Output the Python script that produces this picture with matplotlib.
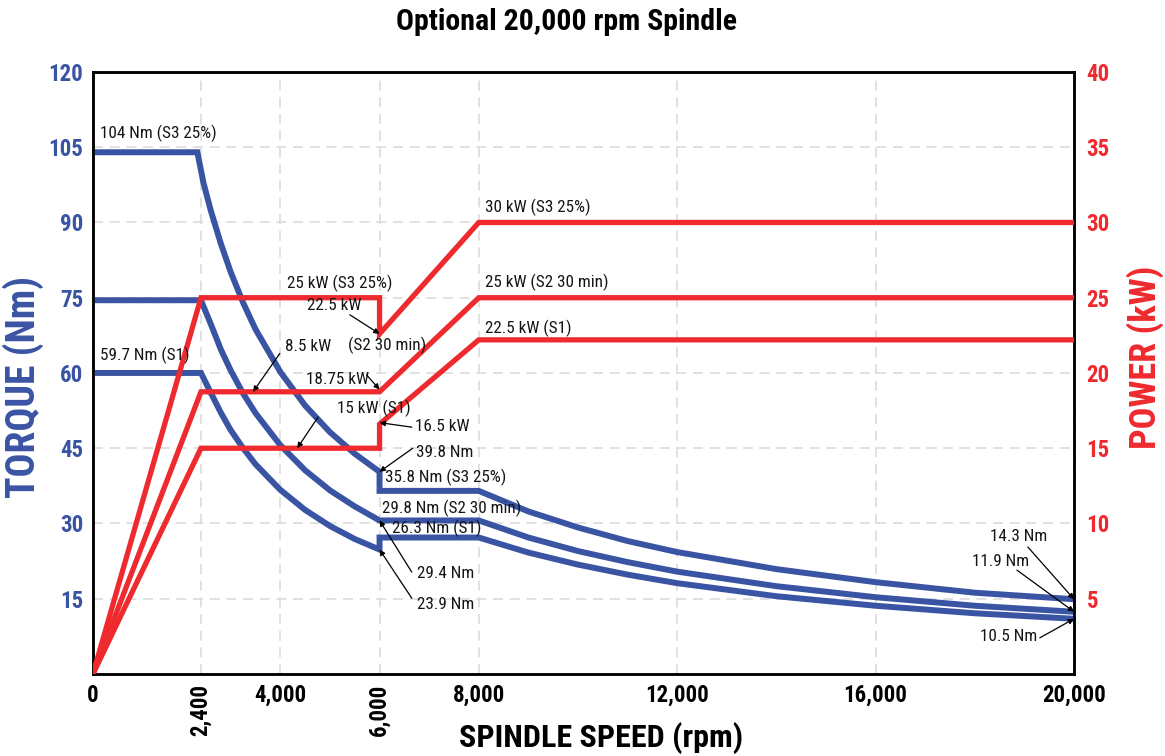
import numpy as np
import matplotlib.pyplot as plt

# torque curves (Nm) against spindle speed (rpm)
rpm_s3 = [0, 2320, 2450, 2600, 2800, 3000, 3250, 3500, 4000, 4500, 5000, 5500, 6000,
          6000, 8000, 9000, 10000, 11000, 12000, 14000, 16000, 18000, 20000]
tq_s3 = [104, 104, 97.9, 92.3, 85.8, 80.1, 74.0, 68.7, 60.2, 53.5, 48.2, 43.9, 40.3,
         36.5, 36.5, 32.4, 29.2, 26.5, 24.3, 20.9, 18.3, 16.2, 14.9]

rpm_s2 = [0, 2400, 2600, 2800, 3000, 3250, 3500, 4000, 4500, 5000, 5500, 6000,
          8000, 9000, 10000, 11000, 12000, 14000, 16000, 18000, 20000]
tq_s2 = [74.5, 74.5, 69.7, 64.7, 60.5, 55.9, 52.0, 45.6, 40.6, 36.6, 33.4, 30.6,
         30.6, 27.2, 24.5, 22.3, 20.4, 17.5, 15.3, 13.6, 12.4]

rpm_s1 = [0, 2400, 2600, 2800, 3000, 3250, 3500, 4000, 4500, 5000, 5500, 6000,
          6000, 8000, 9000, 10000, 11000, 12000, 14000, 16000, 18000, 20000]
tq_s1 = [60, 60, 56.0, 52.1, 48.6, 45.0, 41.8, 36.7, 32.7, 29.5, 26.9, 24.8,
         27.2, 27.2, 24.2, 21.8, 19.8, 18.1, 15.5, 13.6, 12.1, 11.0]

# power curves (kW)
rpm_p_s3 = [0, 2400, 6000, 6000, 8000, 20000]
kw_s3 = [0, 25, 25, 22.6, 30, 30]
rpm_p_s2 = [0, 2400, 6000, 8000, 20000]
kw_s2 = [0, 18.75, 18.75, 25, 25]
rpm_p_s1 = [0, 2400, 6000, 6000, 8000, 20000]
kw_s1 = [0, 15, 15, 16.6, 22.2, 22.2]

x_ticks = [0, 2400, 4000, 6000, 8000, 12000, 16000, 20000]
tq_ticks = [15, 30, 45, 60, 75, 90, 105, 120]
kw_ticks = [5, 10, 15, 20, 25, 30, 35, 40]

BLUE = '#3a54a4'
RED = '#ee2a2e'

plt.rcParams['font.family'] = ['Roboto Condensed', 'DejaVu Sans']

# the drawing squeezes 0-2400 a bit compared with the rest of the axis
def fwd(x):
    return np.interp(x, [0, 2400, 20000], [0, 108, 981])

def inv(x):
    return np.interp(x, [0, 108, 981], [0, 2400, 20000])

fig = plt.figure(figsize=(11.65, 7.56), dpi=100)
ax = fig.add_axes([0.0798, 0.1085, 0.8421, 0.7963])
ax.set_xscale('function', functions=(fwd, inv))
ax.set_xlim(0, 20000)
ax.set_ylim(0, 120)

lw_t = 4.3
for r, t in [(rpm_s3, tq_s3), (rpm_s2, tq_s2), (rpm_s1, tq_s1)]:
    ax.plot(r, t, color=BLUE, lw=lw_t, solid_joinstyle='miter', solid_capstyle='butt', zorder=3)

ax.set_xticks(x_ticks)
ax.set_xticklabels(['{:,}'.format(v) for v in x_ticks])
for i, lab in enumerate(ax.get_xticklabels()):
    lab.set_fontsize(16.5)
    lab.set_fontweight('bold')
    if x_ticks[i] in (2400, 6000):
        lab.set_rotation(90)
        lab.set_va('top')
ax.set_yticks(tq_ticks)
ax.set_yticklabels([str(v) for v in tq_ticks], fontsize=16.5, fontweight='bold', color=BLUE)
ax.tick_params(length=0, pad=7)
ax.grid(True, color='#dcdcdc', linestyle=(0, (6, 4)), lw=1.2)
ax.set_axisbelow(True)
for s in ax.spines.values():
    s.set_linewidth(1.8)

ax2 = ax.twinx()
ax2.set_ylim(0, 40)
lw_p = 3.8
for r, p in [(rpm_p_s3, kw_s3), (rpm_p_s2, kw_s2), (rpm_p_s1, kw_s1)]:
    ax2.plot(r, p, color=RED, lw=lw_p, solid_joinstyle='miter', solid_capstyle='butt', zorder=3)
ax2.set_yticks(kw_ticks)
ax2.set_yticklabels([str(v) for v in kw_ticks], fontsize=16.5, fontweight='bold', color=RED)
ax2.tick_params(length=0, pad=9)
for s in ax2.spines.values():
    s.set_linewidth(1.8)

# label text, text position (rpm, Nm), arrow start (rpm, Nm), arrow tip (rpm, value), tip units
notes = [
    ('104 Nm (S3 25%)', (160, 107.8), None, None, None),
    ('59.7 Nm (S1)', (160, 63.6), None, None, None),
    ('25 kW (S3 25%)', (4130, 77.9), None, None, None),
    ('22.5 kW', (4540, 73.4), (5400, 71.6), (6000, 22.6), 'kW'),
    ('(S2 30 min)', (5360, 65.6), None, None, None),
    ('8.5 kW', (4090, 65.2), (3990, 63.9), (3450, 18.75), 'kW'),
    ('18.75 kW', (4510, 58.6), (5740, 59.6), (6000, 18.9), 'kW'),
    ('15 kW (S1)', (5140, 53.0), (4760, 51.2), (4340, 15), 'kW'),
    ('16.5 kW', (6710, 49.4), (6650, 49.2), (6000, 16.7), 'kW'),
    ('39.8 Nm', (6730, 44.2), (6670, 45.0), (6000, 40.3), 'Nm'),
    ('35.8 Nm (S3 25%)', (6110, 39.1), None, None, None),
    ('29.8 Nm (S2 30 min)', (6050, 33.1), None, None, None),
    ('26.3 Nm (S1)', (6250, 29.1), None, None, None),
    ('29.4 Nm', (6750, 20.1), (6650, 20.3), (6000, 30.6), 'Nm'),
    ('23.9 Nm', (6750, 13.8), (6650, 15.1), (6000, 24.8), 'Nm'),
    ('30 kW (S3 25%)', (8125, 93.1), None, None, None),
    ('25 kW (S2 30 min)', (8125, 78.1), None, None, None),
    ('22.5 kW (S1)', (8125, 68.8), None, None, None),
    ('14.3 Nm', (18300, 27.5), (19070, 25.3), (20000, 14.9), 'Nm'),
    ('11.9 Nm', (17940, 22.5), (18850, 20.7), (20000, 12.4), 'Nm'),
    ('10.5 Nm', (18100, 7.4), (19310, 7.2), (20000, 11.0), 'Nm'),
]
for text, pos, start, tip, unit in notes:
    ax2.text(pos[0], pos[1], text, transform=ax.transData, fontsize=12.3,
             ha='left', va='center', color='#151515', zorder=5)
    if start is not None:
        tip_tr = ax.transData if unit == 'Nm' else ax2.transData
        ax2.annotate('', xy=tip, xycoords=tip_tr, xytext=start, textcoords=ax.transData,
                     arrowprops=dict(arrowstyle='-|>', color='black', lw=0.9,
                                     mutation_scale=8, shrinkA=0, shrinkB=0),
                     zorder=6)

fig.text(566 / 1165, 1 - 22 / 756, 'Optional 20,000 rpm Spindle', ha='center', va='center',
         fontsize=21.5, fontweight='bold')
fig.text(601 / 1165, 1 - 738 / 756, 'SPINDLE SPEED (rpm)', ha='center', va='center',
         fontsize=23, fontweight='bold')
fig.text(23 / 1165, 1 - 387 / 756, 'TORQUE (Nm)', ha='center', va='center', rotation=90,
         fontsize=28.5, fontweight='bold', color=BLUE)
fig.text(1145 / 1165, 1 - 357 / 756, 'POWER (kW)', ha='center', va='center', rotation=90,
         fontsize=26, fontweight='bold', color=RED)

fig.savefig('out.png', dpi=100)
